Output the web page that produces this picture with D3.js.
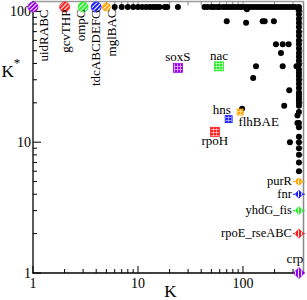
<!DOCTYPE html>
<html>
<head>
<meta charset="utf-8">
<script src="https://cdn.jsdelivr.net/npm/d3@7"></script>
<style>
body{margin:0;background:#fff;}
text{font-family:"Liberation Serif","Times New Roman",serif;}
</style>
</head>
<body>
<svg id="chart" width="307" height="300"></svg>
<script>
// black dots: top row (K* saturated), right column (K = all), scattered
const topRowKstar = 108;
const topRowK = [6,7,8,9,10,11,12,13,14,15,16,18,19,24,
  43,46,50,53,57,60,65,69,74,79,84,90,96,103,110,117,125,134,143,152,163,174,186,199,212,227,242,259,277,296,316];
const edgeK = 341;
const edgeKstar = [6,7,8,9,10,11,13,14,17,19,20,21,22,23,24,26,28,30,32,34,36,39,42,45,48,52,56,60,65,70,76,82,88,95,102,108];
const scatterK     = [70,107,154,161,197,206,239,272,230,133,239,323,125,276,247,98,330,330,280,109];
const scatterKstar = [84, 82, 84, 84, 84, 56, 56, 56, 48, 38, 38, 38, 31, 25, 19,18, 16, 14, 10,104];

// coloured groups
const circleNames = ["uidRABC","gcvTHP","ompC","tdcABCDEFG","mglBAC"];
const circleK = [1,2,3,4,5];
const circleKstar = [108,108,108,108,108];
const squareNames = ["soxS","nac","hns","flhBAE","rpoH"];
const squareK = [24,59,94,73,54];
const squareKstar = [37,38,17,15,12];
const diamondNames = ["purR","fnr","yhdG_fis","rpoE_rseABC","crp"];
const diamondK = [341,341,341,341,341];
const diamondKstar = [5,4,3,2,1];
const palette = ["#9a00e8","#ff1a1a","#22ee22","#1a1aff","#ffa500"];

const xTicks = [1,10,100];
const yTicks = [1,10,100];

const svg = d3.select("#chart");
const x = d3.scaleLog().domain([1,377]).range([33,303.5]);
const y = d3.scaleLog().domain([1,119]).range([273,1.5]);

const defs = svg.append("defs");
function makePattern(id,color,kind){
  let p = defs.append("pattern").attr("id",id)
    .attr("patternUnits","userSpaceOnUse").attr("width",3).attr("height",3);
  if(kind=="diag") p.attr("patternTransform","rotate(45)");
  p.append("rect").attr("width",3).attr("height",3).attr("fill",color);
  if(kind=="grid"){
    p.append("path").attr("d","M0,0.5H3M0.5,0V3").attr("stroke","#fff").attr("stroke-width",0.7).attr("opacity",0.8);
  }else{
    p.append("path").attr("d","M1.5,0V3").attr("stroke","#fff").attr("stroke-width",1);
  }
}
palette.forEach(function(c,i){
  makePattern("diag"+i,c,"diag");
  makePattern("grid"+i,c,"grid");
  makePattern("vert"+i,c,"vert");
});

// axes
const minorX = [2,3,4,5,6,7,8,9,20,30,40,50,60,70,80,90,200,300];
const minorY = [2,3,4,5,6,7,8,9,20,30,40,50,60,70,80,90];
const gAx = svg.append("g");
// frame mirror (top, right)
gAx.append("line").attr("x1",33).attr("x2",303.5).attr("y1",1.5).attr("y2",1.5).attr("stroke","#999").attr("stroke-width",1.5);
gAx.append("line").attr("x1",303.5).attr("x2",303.5).attr("y1",1.5).attr("y2",273).attr("stroke","#888").attr("stroke-width",1.5);
xTicks.concat(minorX).forEach(function(v){
  let len = xTicks.indexOf(v)>=0 ? 7 : 4;
  gAx.append("line").attr("x1",x(v)).attr("x2",x(v)).attr("y1",273).attr("y2",273-len).attr("stroke","#000");
  gAx.append("line").attr("x1",x(v)).attr("x2",x(v)).attr("y1",1.5).attr("y2",1.5+len).attr("stroke","#888");
});
yTicks.concat(minorY).forEach(function(v){
  let len = yTicks.indexOf(v)>=0 ? 8 : 4;
  gAx.append("line").attr("x1",33).attr("x2",33+len).attr("y1",y(v)).attr("y2",y(v)).attr("stroke","#000");
  gAx.append("line").attr("x1",303.5).attr("x2",303.5-len).attr("y1",y(v)).attr("y2",y(v)).attr("stroke","#888");
});
gAx.append("line").attr("x1",33).attr("x2",33).attr("y1",1).attr("y2",273.5).attr("stroke","#000").attr("stroke-width",1.3);
gAx.append("line").attr("x1",32.5).attr("x2",303.5).attr("y1",273).attr("y2",273).attr("stroke","#000").attr("stroke-width",1.3);

gAx.selectAll(".xl").data(xTicks).enter().append("text")
  .attr("x",d=>x(d)).attr("y",288).attr("text-anchor","middle")
  .attr("font-size",14).text(d=>d);
gAx.selectAll(".yl").data(yTicks).enter().append("text")
  .attr("x",31).attr("y",d=>y(d)+5).attr("text-anchor","end")
  .attr("font-size",14).text(d=>d);
gAx.append("text").attr("x",170.5).attr("y",296.5).attr("text-anchor","middle").attr("font-size",17).text("K");
const yl = gAx.append("text").attr("x",1.5).attr("y",76.5).attr("font-size",17);
yl.append("tspan").text("K");
yl.append("tspan").attr("dy",-10).attr("font-size",13).text("*");

// black dots
const black = [];
topRowK.forEach(k=>black.push([k,topRowKstar]));
edgeKstar.forEach(s=>black.push([edgeK,s]));
scatterK.forEach((k,i)=>black.push([k,scatterKstar[i]]));
svg.append("g").selectAll("circle").data(black).enter().append("circle")
  .attr("cx",d=>x(d[0])).attr("cy",d=>y(d[1])).attr("r",3).attr("fill","#000");

// hatched circles on top row
const circleR = [5,5,5,5,4];
const gc = svg.append("g");
circleK.forEach(function(k,i){
  gc.append("circle").attr("cx",x(k)).attr("cy",y(circleKstar[i])).attr("r",circleR[i])
    .attr("fill","url(#diag"+i+")").attr("stroke",palette[i]).attr("stroke-width",0.8);
});
const circleLabelX = [47.5,70,85,100,116];
circleNames.forEach(function(n,i){
  gc.append("text").attr("transform","translate("+circleLabelX[i]+",9.5) rotate(-90)")
    .attr("text-anchor","end").attr("font-size",13).text(n);
});

// squares
const squareColor = [0,2,4,3,1];
const squareSize = [9,9,6,7,9];
const squareLabel = [[0,-6.5,"middle"],[0,-6.5,"middle"],[-18.5,2.3,"middle"],[30,6.7,"middle"],[0,13.3,"middle"]];
const gs = svg.append("g");
squareK.forEach(function(k,i){
  let cx = x(k), cy = y(squareKstar[i]), s = squareSize[i], c = squareColor[i];
  gs.append("rect").attr("x",cx-s/2).attr("y",cy-s/2).attr("width",s).attr("height",s)
    .attr("fill","url(#grid"+c+")").attr("stroke",palette[c]).attr("stroke-width",0.8);
  gs.append("text").attr("x",cx+squareLabel[i][0]).attr("y",cy+squareLabel[i][1])
    .attr("text-anchor",squareLabel[i][2]).attr("font-size",13).text(squareNames[i]);
});

// diamonds on right edge
const diamondColor = [4,3,2,1,0];
const diamondR = [3,4,4,4.5,5.5];
const gd = svg.append("g");
diamondK.forEach(function(k,i){
  let cx = x(k), cy = y(diamondKstar[i]), r = diamondR[i], c = diamondColor[i];
  gd.append("line").attr("x1",cx-6).attr("x2",cx+6).attr("y1",cy).attr("y2",cy)
    .attr("stroke",palette[c]).attr("stroke-width",1);
  if(i==0){
    gd.append("circle").attr("cx",cx).attr("cy",cy).attr("r",r)
      .attr("fill","url(#vert"+c+")").attr("stroke",palette[c]).attr("stroke-width",0.8);
  }else{
    gd.append("path").attr("d","M"+cx+","+(cy-r)+"L"+(cx+r)+","+cy+"L"+cx+","+(cy+r)+"L"+(cx-r)+","+cy+"Z")
      .attr("fill","url(#vert"+c+")").attr("stroke",palette[c]).attr("stroke-width",0.8);
  }
  if(i<4){
    gd.append("text").attr("x",cx-7).attr("y",cy+3.5).attr("text-anchor","end")
      .attr("font-size",12.5).text(diamondNames[i]);
  }else{
    gd.append("text").attr("x",cx-4).attr("y",cy-10).attr("text-anchor","middle")
      .attr("font-size",13).text(diamondNames[i]);
  }
});
</script>
</body>
</html>
